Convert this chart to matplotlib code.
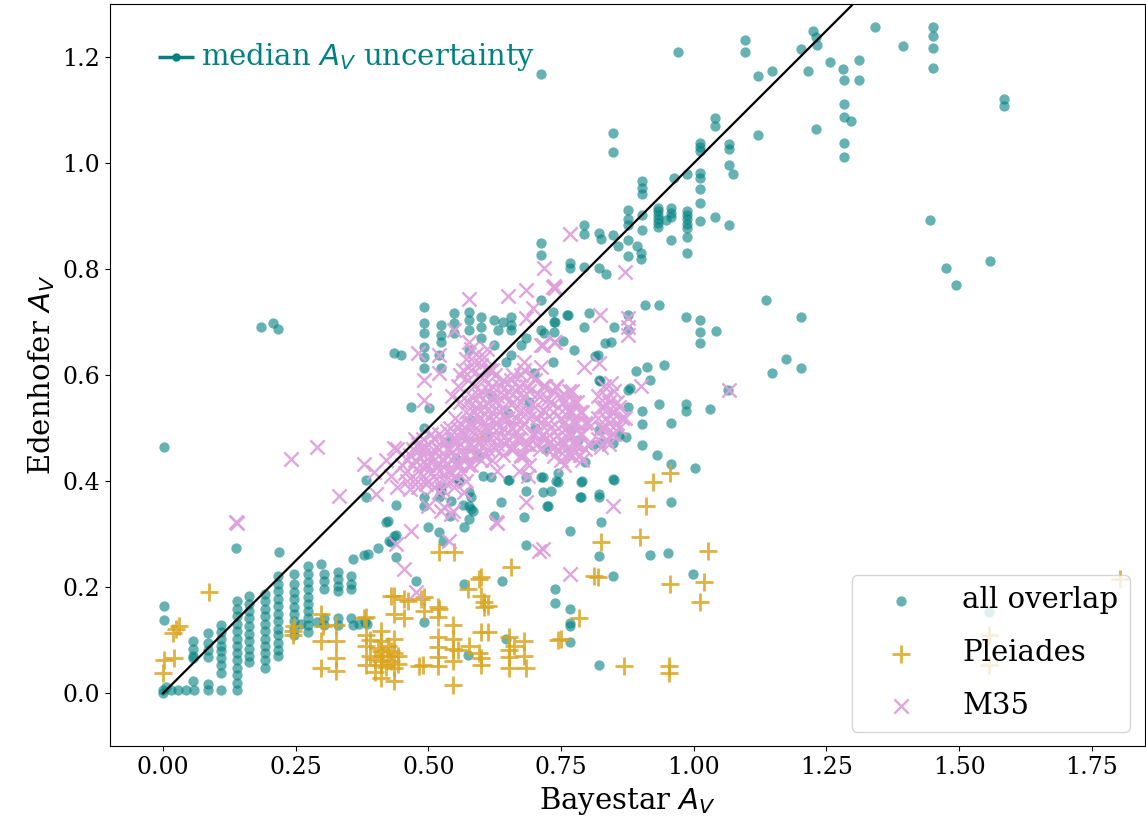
import numpy as np
import matplotlib
matplotlib.use("Agg")
import matplotlib.pyplot as plt

plt.rcParams['font.family'] = ['DejaVu Serif']
plt.rcParams['mathtext.fontset'] = 'dejavusans'

# "all overlap" stars, low-extinction part (Bayestar A_V, Edenhofer A_V)
overlap_low = [
    (0.0, 0.006), (0.015, 0.006), (0.028, 0.006), (0.043, 0.006), (0.058, 0.006),
    (0.085, 0.006), (0.109, 0.006), (0.139, 0.006), (0.005, 0.012), (0.0, 0.0),
    (0.056, 0.024), (0.085, 0.017),
    (0.056, 0.098), (0.056, 0.084), (0.056, 0.071), (0.056, 0.066),
    (0.085, 0.113), (0.085, 0.094), (0.085, 0.081), (0.085, 0.069),
    (0.109, 0.128), (0.109, 0.116), (0.109, 0.103), (0.109, 0.090), (0.109, 0.079),
    (0.109, 0.066), (0.109, 0.053), (0.109, 0.038),
    (0.139, 0.174), (0.139, 0.159), (0.139, 0.146), (0.139, 0.131), (0.139, 0.118),
    (0.139, 0.103), (0.139, 0.090), (0.139, 0.075), (0.139, 0.062), (0.139, 0.047),
    (0.139, 0.034), (0.139, 0.019),
    (0.162, 0.184), (0.162, 0.169), (0.162, 0.156), (0.162, 0.141), (0.162, 0.126),
    (0.162, 0.111), (0.162, 0.098), (0.162, 0.084), (0.162, 0.071), (0.162, 0.058),
    (0.192, 0.188), (0.192, 0.174), (0.192, 0.159), (0.192, 0.146), (0.192, 0.131),
    (0.192, 0.118), (0.192, 0.103), (0.192, 0.090), (0.192, 0.075), (0.192, 0.062),
    (0.192, 0.047),
    (0.217, 0.221), (0.217, 0.206), (0.217, 0.193), (0.217, 0.178), (0.217, 0.165),
    (0.217, 0.150), (0.217, 0.137), (0.217, 0.122), (0.217, 0.109), (0.217, 0.094),
    (0.217, 0.081), (0.217, 0.071),
    (0.247, 0.225), (0.247, 0.206), (0.247, 0.191), (0.247, 0.178), (0.247, 0.163),
    (0.247, 0.150), (0.247, 0.137), (0.247, 0.122), (0.247, 0.109),
    (0.273, 0.240), (0.273, 0.225), (0.273, 0.210), (0.273, 0.197), (0.273, 0.182),
    (0.273, 0.169), (0.273, 0.156), (0.273, 0.141), (0.273, 0.128), (0.273, 0.116),
    (0.303, 0.225), (0.303, 0.212), (0.303, 0.197), (0.303, 0.141), (0.303, 0.128),
    (0.330, 0.229), (0.330, 0.216), (0.330, 0.203), (0.330, 0.193), (0.330, 0.141),
    (0.330, 0.128), (0.354, 0.221), (0.354, 0.206), (0.354, 0.197), (0.354, 0.141),
    (0.370, 0.130), (0.380, 0.135), (0.260, 0.130), (0.290, 0.135), (0.358, 0.128),
    (0.384, 0.131),
    (0.002, 0.165), (0.002, 0.139), (0.002, 0.465), (0.137, 0.274), (0.218, 0.266),
    (0.185, 0.690), (0.207, 0.698), (0.217, 0.687), (0.298, 0.244), (0.358, 0.253),
    (0.379, 0.261), (0.386, 0.263), (0.405, 0.274), (0.426, 0.287), (0.439, 0.298),
    (0.439, 0.257), (0.420, 0.323), (0.382, 0.403), (0.382, 0.370),
]

# "all overlap", middle part
overlap_mid = [
    (0.467, 0.540), (0.435, 0.642), (0.448, 0.638),
    (0.492, 0.728), (0.492, 0.698), (0.492, 0.679), (0.492, 0.653), (0.492, 0.634),
    (0.492, 0.613), (0.492, 0.501), (0.492, 0.371), (0.492, 0.353), (0.492, 0.135),
    (0.524, 0.694), (0.524, 0.675), (0.524, 0.662), (0.524, 0.613), (0.524, 0.390),
    (0.524, 0.381), (0.520, 0.638), (0.501, 0.538),
    (0.548, 0.717), (0.548, 0.698), (0.548, 0.679),
    (0.576, 0.719), (0.576, 0.704), (0.576, 0.685), (0.576, 0.647), (0.576, 0.379),
    (0.576, 0.353), (0.599, 0.709), (0.599, 0.690), (0.599, 0.670),
    (0.623, 0.704), (0.623, 0.657), (0.631, 0.685), (0.640, 0.700),
    (0.655, 0.709), (0.655, 0.694), (0.655, 0.685), (0.655, 0.638),
    (0.712, 0.741), (0.736, 0.700), (0.712, 0.685), (0.718, 0.679), (0.674, 0.657),
    (0.684, 0.670), (0.734, 0.625), (0.699, 0.604), (0.646, 0.625),
    (0.439, 0.356), (0.520, 0.371), (0.542, 0.362), (0.580, 0.370), (0.580, 0.347),
    (0.576, 0.328), (0.567, 0.313), (0.623, 0.334), (0.680, 0.332), (0.684, 0.407),
    (0.712, 0.407), (0.725, 0.353), (0.684, 0.381), (0.618, 0.407), (0.650, 0.403),
    (0.556, 0.403), (0.684, 0.280), (0.499, 0.313), (0.520, 0.304), (0.527, 0.287),
    (0.424, 0.325), (0.435, 0.296), (0.429, 0.285),
    (0.584, 0.343), (0.540, 0.334), (0.565, 0.355), (0.825, 0.323), (0.766, 0.306),
    (0.821, 0.259), (0.917, 0.261), (0.951, 0.265), (0.638, 0.212), (0.738, 0.197),
    (0.847, 0.221), (0.998, 0.225), (0.476, 0.212), (0.567, 0.206), (0.766, 0.158),
    (0.766, 0.133), (0.821, 0.054), (0.646, 0.103), (0.574, 0.073),
    (0.761, 0.713), (0.802, 0.717), (0.738, 0.700), (0.793, 0.690), (0.850, 0.690),
    (0.753, 0.664), (0.774, 0.647), (0.832, 0.660), (0.814, 0.636), (0.891, 0.608),
    (0.879, 0.576), (0.934, 0.546), (0.985, 0.546), (0.985, 0.533), (1.030, 0.537),
    (0.902, 0.533), (0.902, 0.508), (0.957, 0.510), (0.902, 0.469), (0.930, 0.450),
    (0.957, 0.432), (1.002, 0.424), (0.847, 0.405), (0.789, 0.400), (0.744, 0.416),
    (0.740, 0.400), (0.731, 0.381), (0.785, 0.371), (0.821, 0.371), (0.957, 0.360),
    (0.908, 0.732), (0.934, 0.732), (1.137, 0.741), (1.202, 0.709), (0.985, 0.709),
    (1.011, 0.704), (1.011, 0.681), (1.011, 0.660), (1.041, 0.683), (1.173, 0.630),
    (1.147, 0.604), (1.202, 0.613), (0.810, 0.469), (0.847, 0.473), (0.795, 0.437),
    (0.821, 0.497), (0.872, 0.484), (0.823, 0.589), (0.876, 0.713), (0.876, 0.685),
    (0.911, 0.615), (0.944, 0.619), (0.917, 0.591), (0.876, 0.572), (1.064, 0.572),
    (0.821, 0.591), (0.716, 0.407), (0.716, 0.379), (0.734, 0.719), (0.763, 0.713),
    (0.736, 0.681), (0.844, 0.662), (0.819, 0.638), (0.876, 0.540), (0.859, 0.488),
    (0.825, 0.473), (0.850, 0.403), (0.821, 0.375), (0.787, 0.398), (0.787, 0.371),
    (0.744, 0.398), (0.652, 0.403), (0.637, 0.360), (0.603, 0.409), (0.557, 0.403),
    (0.580, 0.516), (0.650, 0.529), (0.768, 0.497), (0.781, 0.478), (0.608, 0.484),
    (0.552, 0.441), (0.593, 0.450), (0.700, 0.500), (0.720, 0.460), (0.540, 0.480),
    (0.620, 0.560), (0.690, 0.550), (0.723, 0.353), (0.738, 0.171), (0.766, 0.126),
    (0.766, 0.096),
]

# "all overlap", high-extinction part
overlap_high = [
    (0.970, 1.210), (1.096, 1.233), (1.096, 1.210), (1.121, 1.165), (1.147, 1.174),
    (1.202, 1.216), (1.224, 1.250), (1.230, 1.238), (1.232, 1.223), (1.215, 1.174),
    (1.256, 1.191), (1.282, 1.178), (1.284, 1.156), (1.311, 1.195), (1.311, 1.156),
    (1.341, 1.256), (1.395, 1.221), (1.450, 1.256), (1.450, 1.239), (1.450, 1.218),
    (1.450, 1.179), (1.585, 1.121), (1.585, 1.107), (1.446, 0.893), (1.475, 0.803),
    (1.494, 0.770), (1.559, 0.815), (1.284, 1.111), (1.284, 1.088), (1.296, 1.079),
    (1.284, 1.038), (1.284, 1.011), (1.230, 1.064), (0.847, 1.056), (0.847, 1.021),
    (1.040, 1.086), (1.040, 1.071), (1.121, 1.054), (1.011, 1.038), (1.011, 1.030),
    (1.011, 1.023), (1.066, 1.036), (1.066, 1.026), (1.066, 0.996), (1.073, 0.979),
    (0.962, 0.972), (0.987, 0.979), (1.011, 0.981), (1.011, 0.972), (1.011, 0.951),
    (1.011, 0.925), (1.011, 0.891), (1.040, 0.899), (1.066, 0.884), (0.902, 0.966),
    (0.902, 0.953), (0.902, 0.942), (0.876, 0.912), (0.876, 0.895), (0.876, 0.884),
    (0.902, 0.902), (0.902, 0.874), (0.876, 0.856), (0.876, 0.824), (0.900, 0.831),
    (0.900, 0.820), (0.893, 0.844), (0.857, 0.844), (0.847, 0.865),
    (0.932, 0.916), (0.932, 0.910), (0.932, 0.902), (0.932, 0.895), (0.932, 0.887),
    (0.932, 0.880), (0.957, 0.916), (0.957, 0.906), (0.957, 0.899),
    (0.987, 0.910), (0.987, 0.902), (0.987, 0.895), (0.987, 0.886), (0.987, 0.878),
    (0.987, 0.861), (0.987, 0.831), (0.957, 0.856), (0.947, 0.893),
    (0.793, 0.884), (0.793, 0.867), (0.821, 0.869), (0.825, 0.857), (0.766, 0.812),
    (0.766, 0.803), (0.793, 0.805), (0.821, 0.803), (0.834, 0.790), (0.712, 1.169),
    (0.712, 0.850), (0.712, 0.826), (1.556, 0.154),
]

# Pleiades members
pleiades = [
    (0.087, 0.191), (0.024, 0.122), (0.030, 0.126), (0.019, 0.113), (0.002, 0.062),
    (0.021, 0.066), (0.000, 0.038),
    (0.245, 0.118), (0.245, 0.109), (0.247, 0.126), (0.298, 0.150), (0.301, 0.126),
    (0.298, 0.098), (0.298, 0.047), (0.326, 0.128), (0.326, 0.098), (0.326, 0.066),
    (0.326, 0.041), (0.382, 0.144), (0.382, 0.109), (0.382, 0.090), (0.382, 0.053),
    (0.411, 0.118), (0.411, 0.098), (0.411, 0.079), (0.411, 0.053), (0.411, 0.028),
    (0.435, 0.184), (0.435, 0.150), (0.435, 0.103), (0.435, 0.075), (0.435, 0.047),
    (0.435, 0.024), (0.442, 0.071), (0.442, 0.056), (0.424, 0.071), (0.424, 0.090),
    (0.400, 0.065), (0.405, 0.085), (0.415, 0.070), (0.430, 0.060), (0.390, 0.070),
    (0.400, 0.040), (0.420, 0.050), (0.390, 0.100), (0.430, 0.080), (0.410, 0.060),
    (0.454, 0.141), (0.461, 0.174), (0.492, 0.182), (0.492, 0.156), (0.520, 0.266),
    (0.548, 0.266), (0.490, 0.053), (0.482, 0.051),
    (0.518, 0.163), (0.518, 0.144), (0.518, 0.107), (0.518, 0.088), (0.518, 0.069),
    (0.518, 0.051), (0.546, 0.128), (0.546, 0.103), (0.546, 0.084), (0.546, 0.060),
    (0.546, 0.015), (0.556, 0.081), (0.576, 0.090),
    (0.574, 0.197), (0.599, 0.219), (0.599, 0.184), (0.605, 0.173), (0.605, 0.163),
    (0.612, 0.165), (0.599, 0.116), (0.612, 0.116), (0.595, 0.075), (0.599, 0.066),
    (0.599, 0.053), (0.655, 0.238), (0.652, 0.107), (0.652, 0.081), (0.652, 0.069),
    (0.652, 0.047), (0.680, 0.098), (0.680, 0.071), (0.684, 0.047), (0.661, 0.090),
    (0.750, 0.103), (0.744, 0.100), (0.783, 0.141), (0.812, 0.221), (0.819, 0.219),
    (0.825, 0.285), (0.898, 0.294), (0.910, 0.353), (0.923, 0.398), (0.955, 0.416),
    (1.026, 0.268), (0.955, 0.206), (1.019, 0.210), (1.011, 0.173), (0.868, 0.051),
    (0.953, 0.051), (0.953, 0.038), (1.804, 0.216), (1.556, 0.109), (1.556, 0.053),
    (0.379, 0.141), (0.429, 0.184), (0.454, 0.178), (0.486, 0.178), (0.520, 0.159),
    (0.595, 0.216), (0.600, 0.480),
]

# M35 members, scattered ones
m35_outer = [
    (0.137, 0.323), (0.241, 0.441), (0.290, 0.465), (0.331, 0.373), (0.379, 0.432),
    (0.397, 0.418), (0.401, 0.375), (0.435, 0.463), (0.439, 0.281), (0.454, 0.235),
    (0.467, 0.306), (0.492, 0.591), (0.492, 0.553), (0.520, 0.638), (0.520, 0.604),
    (0.480, 0.642), (0.576, 0.743), (0.548, 0.685), (0.576, 0.662), (0.650, 0.750),
    (0.684, 0.760), (0.736, 0.769), (0.697, 0.726), (0.684, 0.707), (0.712, 0.657),
    (0.736, 0.662), (0.680, 0.625), (0.712, 0.615), (0.740, 0.578), (0.627, 0.323),
    (0.708, 0.268), (0.684, 0.360), (0.529, 0.351), (0.542, 0.338), (0.539, 0.287),
    (0.499, 0.353), (0.520, 0.379), (0.548, 0.390), (0.567, 0.379), (0.687, 0.409),
    (0.674, 0.447), (0.736, 0.465), (0.736, 0.447), (0.766, 0.867), (0.718, 0.803),
    (0.734, 0.767), (0.870, 0.794), (0.738, 0.765), (0.823, 0.713), (0.876, 0.707),
    (0.876, 0.690), (0.876, 0.675), (0.738, 0.662), (0.716, 0.657), (0.821, 0.623),
    (0.793, 0.615), (0.844, 0.585), (0.900, 0.580), (1.066, 0.572), (0.847, 0.353),
    (0.766, 0.225), (0.716, 0.272), (0.524, 0.343), (0.546, 0.343), (0.476, 0.191),
    (0.629, 0.321), (0.139, 0.321),
]

# M35 members, dense core
m35_core = [
    (0.46, 0.40), (0.47, 0.43), (0.47, 0.46), (0.48, 0.39), (0.48, 0.42), (0.49, 0.45),
    (0.49, 0.48), (0.50, 0.40), (0.50, 0.43), (0.50, 0.47), (0.51, 0.39), (0.51, 0.44),
    (0.52, 0.42), (0.52, 0.46), (0.52, 0.49), (0.53, 0.40), (0.53, 0.44), (0.53, 0.48),
    (0.54, 0.42), (0.54, 0.46), (0.54, 0.50), (0.55, 0.41), (0.55, 0.45), (0.55, 0.48),
    (0.56, 0.43), (0.56, 0.47), (0.56, 0.51), (0.46, 0.44), (0.48, 0.47), (0.51, 0.48),
    (0.49, 0.41), (0.57, 0.45), (0.57, 0.40), (0.58, 0.43),
    (0.57, 0.49), (0.57, 0.53), (0.58, 0.47), (0.58, 0.51), (0.58, 0.56), (0.59, 0.45),
    (0.59, 0.50), (0.59, 0.54), (0.60, 0.48), (0.60, 0.52), (0.60, 0.57), (0.61, 0.46),
    (0.61, 0.50), (0.61, 0.55), (0.62, 0.44), (0.62, 0.49), (0.62, 0.53), (0.62, 0.58),
    (0.63, 0.47), (0.63, 0.51), (0.63, 0.56), (0.64, 0.45), (0.64, 0.50), (0.64, 0.54),
    (0.64, 0.59), (0.65, 0.48), (0.65, 0.52), (0.65, 0.57), (0.56, 0.55), (0.55, 0.52),
    (0.60, 0.44), (0.63, 0.42),
    (0.66, 0.46), (0.66, 0.50), (0.66, 0.55), (0.66, 0.60), (0.67, 0.48), (0.67, 0.53),
    (0.67, 0.58), (0.68, 0.45), (0.68, 0.51), (0.68, 0.56), (0.68, 0.61), (0.69, 0.47),
    (0.69, 0.52), (0.69, 0.57), (0.70, 0.49), (0.70, 0.54), (0.70, 0.59), (0.71, 0.46),
    (0.71, 0.51), (0.71, 0.56), (0.72, 0.48), (0.72, 0.53), (0.72, 0.58), (0.73, 0.50),
    (0.73, 0.55), (0.69, 0.43), (0.67, 0.42),
    (0.75, 0.44), (0.75, 0.48), (0.75, 0.52), (0.75, 0.56), (0.76, 0.46), (0.76, 0.50),
    (0.76, 0.54), (0.77, 0.45), (0.77, 0.49), (0.77, 0.53), (0.77, 0.57), (0.78, 0.47),
    (0.78, 0.51), (0.78, 0.55), (0.79, 0.44), (0.79, 0.49), (0.79, 0.53), (0.80, 0.47),
    (0.80, 0.51), (0.74, 0.58),
    (0.82, 0.48), (0.82, 0.52), (0.82, 0.56), (0.83, 0.50), (0.83, 0.54), (0.84, 0.47),
    (0.84, 0.51), (0.84, 0.55), (0.85, 0.49), (0.85, 0.53), (0.85, 0.57), (0.86, 0.50),
    (0.86, 0.54), (0.87, 0.52), (0.83, 0.58),
    (0.56, 0.60), (0.57, 0.63), (0.58, 0.61), (0.59, 0.64), (0.60, 0.62), (0.61, 0.65),
    (0.62, 0.61), (0.58, 0.65),
    (0.42, 0.44), (0.43, 0.41), (0.44, 0.46), (0.45, 0.43), (0.44, 0.39),
]

# M35 members, more of the dense core
m35_core_b = [
    (0.455, 0.415), (0.465, 0.385), (0.465, 0.45), (0.475, 0.405), (0.475, 0.44),
    (0.475, 0.48), (0.485, 0.43), (0.485, 0.46), (0.495, 0.395), (0.495, 0.43),
    (0.495, 0.465), (0.505, 0.415), (0.505, 0.45), (0.505, 0.49), (0.515, 0.405),
    (0.515, 0.43), (0.515, 0.465), (0.525, 0.385), (0.525, 0.44), (0.525, 0.475),
    (0.535, 0.42), (0.535, 0.46), (0.535, 0.495), (0.545, 0.40), (0.545, 0.44),
    (0.545, 0.48), (0.555, 0.43), (0.555, 0.465), (0.555, 0.50), (0.565, 0.415),
    (0.565, 0.45), (0.565, 0.49), (0.575, 0.43), (0.575, 0.47),
    (0.575, 0.51), (0.575, 0.55), (0.585, 0.45), (0.585, 0.49), (0.585, 0.53),
    (0.585, 0.58), (0.595, 0.47), (0.595, 0.52), (0.595, 0.56), (0.605, 0.45),
    (0.605, 0.50), (0.605, 0.54), (0.605, 0.59), (0.615, 0.48), (0.615, 0.52),
    (0.615, 0.57), (0.625, 0.46), (0.625, 0.51), (0.625, 0.55), (0.625, 0.60),
    (0.635, 0.49), (0.635, 0.53), (0.635, 0.58), (0.645, 0.47), (0.645, 0.52),
    (0.645, 0.56), (0.655, 0.46), (0.655, 0.50), (0.655, 0.545), (0.655, 0.59),
    (0.665, 0.48), (0.665, 0.52), (0.665, 0.57), (0.675, 0.45), (0.675, 0.50),
    (0.675, 0.55), (0.675, 0.60), (0.685, 0.47), (0.685, 0.53), (0.685, 0.58),
    (0.695, 0.49), (0.695, 0.545), (0.695, 0.60), (0.705, 0.47), (0.705, 0.52),
    (0.705, 0.565), (0.715, 0.49), (0.715, 0.535), (0.715, 0.58), (0.725, 0.47),
    (0.725, 0.51), (0.725, 0.555), (0.735, 0.48), (0.735, 0.53), (0.735, 0.57),
    (0.745, 0.46), (0.745, 0.50), (0.745, 0.54), (0.755, 0.43), (0.755, 0.47),
    (0.755, 0.51), (0.755, 0.55), (0.765, 0.45), (0.765, 0.49), (0.765, 0.53),
    (0.765, 0.57), (0.775, 0.47), (0.775, 0.51), (0.775, 0.55), (0.785, 0.45),
    (0.785, 0.49), (0.785, 0.53), (0.795, 0.46), (0.795, 0.51),
    (0.825, 0.50), (0.825, 0.54), (0.835, 0.48), (0.835, 0.52), (0.835, 0.56),
    (0.845, 0.49), (0.845, 0.53), (0.855, 0.51), (0.855, 0.55), (0.865, 0.52),
    (0.825, 0.465),
    (0.545, 0.56), (0.555, 0.58), (0.565, 0.61), (0.575, 0.59), (0.585, 0.625),
    (0.595, 0.60), (0.605, 0.635), (0.615, 0.61),
]

# median uncertainty marker
med_x, med_y = 0.025, 1.2
med_err = 0.034

overlap = np.array(overlap_low + overlap_mid + overlap_high)
plei = np.array(pleiades)
m35 = np.array(m35_outer + m35_core + m35_core_b)

fig, ax = plt.subplots(figsize=(11.46, 8.31), dpi=100)
fig.subplots_adjust(left=0.096, right=0.999, top=0.995, bottom=0.102)

ax.scatter(overlap[:, 0], overlap[:, 1], s=55, color='teal', alpha=0.6,
           linewidths=0, label='all overlap')
ax.scatter(plei[:, 0], plei[:, 1], s=165, marker='+', color='goldenrod',
           alpha=0.85, linewidths=2.0, label='Pleiades')
ax.scatter(m35[:, 0], m35[:, 1], s=105, marker='x', color='plum',
           alpha=0.95, linewidths=1.7, label='M35')

ax.plot([0, 1.8], [0, 1.8], color='black', lw=1.6, zorder=5)

ax.errorbar(med_x, med_y, xerr=med_err, fmt='o', color='teal', ms=5,
            elinewidth=2.5, capsize=0)
ax.text(0.072, med_y, 'median $A_V$ uncertainty', color='teal',
        va='center', ha='left', fontsize=21)

ax.set_xlim(-0.1, 1.85)
ax.set_ylim(-0.1, 1.3)
ax.set_xticks(np.arange(0, 1.76, 0.25))
ax.set_yticks(np.arange(0, 1.21, 0.2))
ax.tick_params(labelsize=17)
ax.set_xlabel('Bayestar $A_V$', fontsize=21)
ax.set_ylabel('Edenhofer $A_V$', fontsize=21)

ax.legend(loc='lower right', fontsize=21, handlelength=2.6, labelspacing=0.85)

fig.savefig('out.png', dpi=100)
